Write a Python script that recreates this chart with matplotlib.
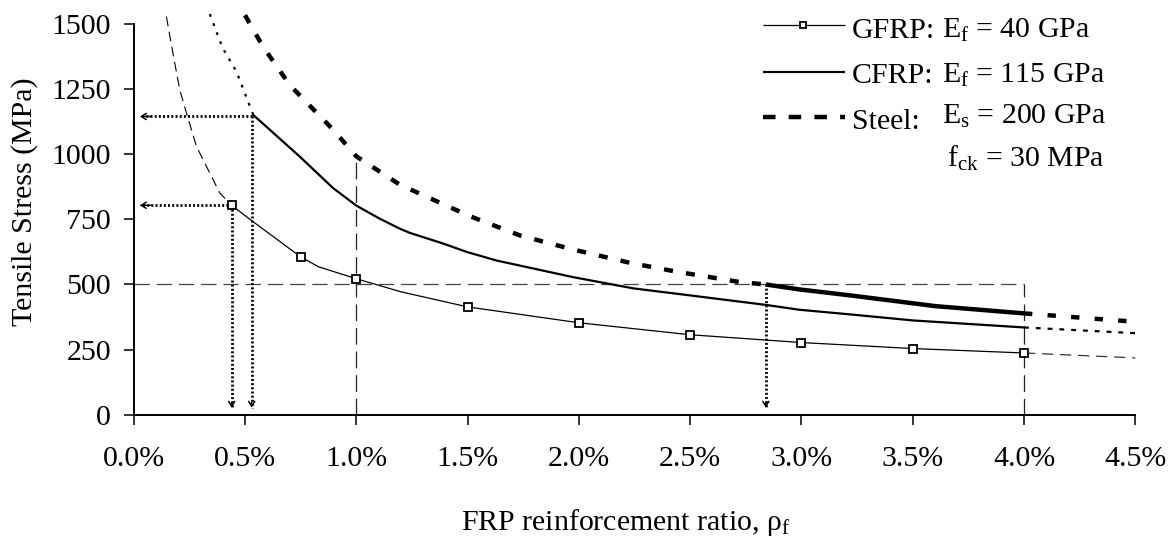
import matplotlib
matplotlib.use('Agg')
import matplotlib.pyplot as plt
from matplotlib.lines import Line2D
from matplotlib.ticker import FuncFormatter

plt.rcParams['font.family'] = ['Liberation Serif', 'DejaVu Serif']
plt.rcParams['mathtext.fontset'] = 'custom'
plt.rcParams['mathtext.rm'] = 'Liberation Serif'
plt.rcParams['mathtext.it'] = 'Liberation Serif:italic'
plt.rcParams['lines.scale_dashes'] = False

FS = 21.5

# ---------------- data (reinforcement ratio in %, stress in MPa) ----------------
gfrp_ratio = [0.44, 0.53, 0.75, 0.83, 1.0, 1.2, 1.5, 2.0, 2.5, 3.0, 3.5, 4.0]
gfrp_stress = [804, 745, 606, 568, 522, 472, 414, 353, 307, 277, 254, 237]
gfrp_marker_ratio = [0.44, 0.75, 1.0, 1.5, 2.0, 2.5, 3.0, 3.5, 4.0]
gfrp_marker_stress = [804, 606, 522, 414, 353, 307, 277, 254, 237]
gfrp_low_ratio = [0.147, 0.18, 0.207, 0.237, 0.282, 0.327, 0.387, 0.44]
gfrp_low_stress = [1528, 1370, 1247, 1158, 1030, 953, 851, 804]
gfrp_high_ratio = [4.0, 4.5]
gfrp_high_stress = [237, 218]

cfrp_ratio = [0.537, 0.746, 0.896, 1.0, 1.1, 1.196, 1.241, 1.391, 1.496, 1.63,
              1.975, 2.245, 2.5, 2.845, 2.99, 3.22, 3.5, 4.0]
cfrp_stress = [1151, 991, 870, 803, 755, 714, 698, 657, 625, 592,
               528, 485, 458, 421, 403, 385, 362, 335]
cfrp_low_ratio = [0.342, 0.40, 0.462, 0.537]
cfrp_low_stress = [1538, 1407, 1317, 1151]
cfrp_high_ratio = [4.0, 4.5]
cfrp_high_stress = [335, 313]

steel_low_ratio = [0.5, 0.581, 0.701, 0.896, 1.0, 1.196, 1.511, 1.736, 1.975,
                   2.23, 2.44, 2.725, 2.84]
steel_low_stress = [1534, 1413, 1266, 1094, 992, 883, 762, 688, 634,
                    583, 549, 509, 500]
steel_ratio = [2.84, 2.99, 3.22, 3.6, 4.0]
steel_stress = [500, 481, 458, 417, 389]
steel_high_ratio = [4.0, 4.465, 4.5]
steel_high_stress = [389, 359, 352]

limit_stress = 500
limit_end_ratio = 4.0
vline_ratio = [1.0, 4.0]
vline_top = [1000, 500]
arrow_ratio = [0.44, 0.53, 2.84]
arrow_stress = [804, 1145, 500]
arrow_has_horizontal = [True, True, False]
arrow_tip_ratio = 0.028
arrow_tip_stress = 27

x_ticks = [0.0, 0.5, 1.0, 1.5, 2.0, 2.5, 3.0, 3.5, 4.0, 4.5]
y_ticks = [0, 250, 500, 750, 1000, 1250, 1500]

legend_labels = ['GFRP:', 'CFRP:', 'Steel:']
legend_values = [r'E$_\mathrm{f}$ = 40 GPa', r'E$_\mathrm{f}$ = 115 GPa',
                 r'E$_\mathrm{s}$ = 200 GPa', r'f$_\mathrm{ck}$ = 30 MPa']

# ---------------- figure ----------------
W, H = 1176, 538
fig = plt.figure(figsize=(W / 100, H / 100), dpi=100)
ax = fig.add_axes([133.7 / W, 1 - 414.7 / H, (1135.3 - 133.7) / W, (414.7 - 13.6) / H])
ax.set_xlim(0, 4.5)
ax.set_ylim(0, 1540)

# reference lines
ax.plot([0, limit_end_ratio], [limit_stress, limit_stress], color='#444444', lw=0.9,
        dashes=(11, 5))
for xr, top in zip(vline_ratio, vline_top):
    ax.plot([xr, xr], [0, top], color='#222222', lw=0.9, dashes=(12, 5))

# dotted arrows
dot_kw = dict(color='black', lw=2.0, dashes=(1.4, 1.6))
for xr, ys, hz in zip(arrow_ratio, arrow_stress, arrow_has_horizontal):
    ax.plot([xr, xr], [ys, arrow_tip_stress], **dot_kw)
    ax.annotate('', xy=(xr, arrow_tip_stress), xytext=(xr, arrow_tip_stress + 20),
                arrowprops=dict(arrowstyle='->,head_length=0.35,head_width=0.22',
                                lw=1.1, color='black', shrinkA=0, shrinkB=0))
    if hz:
        ax.plot([xr, arrow_tip_ratio], [ys, ys], **dot_kw)
        ax.annotate('', xy=(arrow_tip_ratio, ys), xytext=(arrow_tip_ratio + 0.05, ys),
                    arrowprops=dict(arrowstyle='->,head_length=0.35,head_width=0.22',
                                    lw=1.1, color='black', shrinkA=0, shrinkB=0))

# GFRP
ax.plot(gfrp_low_ratio, gfrp_low_stress, color='black', lw=0.8, dashes=(7, 4), clip_on=False)
ax.plot(gfrp_high_ratio, gfrp_high_stress, color='#333333', lw=0.9, dashes=(8, 5), clip_on=False)
ax.plot(gfrp_ratio, gfrp_stress, color='black', lw=0.9)
ax.plot(gfrp_marker_ratio, gfrp_marker_stress, ls='none', marker='s', ms=5.2,
        mfc='white', mec='black', mew=1.3, zorder=5)

# CFRP
ax.plot(cfrp_low_ratio, cfrp_low_stress, color='black', lw=1.6, dashes=(2, 5), clip_on=False)
ax.plot(cfrp_high_ratio, cfrp_high_stress, color='black', lw=1.6, dashes=(3.5, 5), clip_on=False)
ax.plot(cfrp_ratio, cfrp_stress, color='black', lw=1.6)

# Steel
ax.plot(steel_low_ratio, steel_low_stress, color='black', lw=3.2, dashes=(6.5, 9.5), clip_on=False)
ax.plot(steel_ratio, steel_stress, color='black', lw=3.2, solid_capstyle='butt')
ax.plot(steel_high_ratio, steel_high_stress, color='black', lw=3.2, dashes=(6, 11), clip_on=False)

# axes styling
for s in ['top', 'right']:
    ax.spines[s].set_visible(False)
ax.spines['left'].set_bounds(0, 1500)
ax.spines['left'].set_linewidth(1.4)
ax.spines['bottom'].set_linewidth(1.4)
ax.set_xticks(x_ticks)
ax.set_yticks(y_ticks)
ax.xaxis.set_major_formatter(FuncFormatter(lambda v, p: f'{v:.1f}%'))
ax.tick_params(axis='both', direction='out', length=7.2, width=1.1, labelsize=FS)
ax.tick_params(axis='x', pad=15)
ax.tick_params(axis='y', pad=9)

fig.text(626 / W, 1 - 530 / H, r'FRP reinforcement ratio, ρ$_\mathrm{f}$', fontsize=FS,
         ha='center', va='baseline')
fig.text(25 / W, 1 - 202 / H, 'Tensile Stress (MPa)', fontsize=FS, rotation=90,
         ha='center', va='center')

# legend (manual)
leg_y = [25, 71.7, 117]
leg_styles = [dict(lw=0.9), dict(lw=1.6), dict(lw=3.2, dashes=(9, 9.5))]
for yy, st in zip(leg_y, leg_styles):
    fig.add_artist(Line2D([763 / W, 845 / W], [1 - yy / H, 1 - yy / H], color='black',
                          solid_capstyle='butt', dash_capstyle='butt', **st))
fig.add_artist(Line2D([803 / W], [1 - 25 / H], ls='none', marker='s', ms=5, mfc='white',
                      mec='black', mew=1.3))
lab_base = [37.5, 82.7, 129]
for lab, yb in zip(legend_labels, lab_base):
    fig.text(852 / W, 1 - yb / H, lab, fontsize=FS, ha='left', va='baseline')
val_base = [37.5, 82.7, 123.3, 166.7]
val_x = [941.7, 941.7, 941.7, 946.7]
for v, xb, yb in zip(legend_values, val_x, val_base):
    fig.text(xb / W, 1 - yb / H, v, fontsize=FS, ha='left', va='baseline')

fig.savefig('out.png', dpi=100)
